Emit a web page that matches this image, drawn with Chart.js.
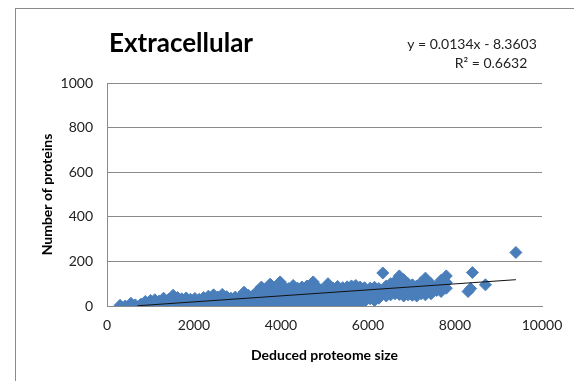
<!DOCTYPE html>
<html>
<head>
<meta charset="utf-8">
<script src="https://cdn.jsdelivr.net/npm/chart.js@4"></script>
<style>
  body { margin: 0; background: #fff; }
  #wrap { position: relative; width: 574px; height: 381px; }
  #frame { position: absolute; left: 15px; top: 8px; right: -2px; bottom: -2px; border-top: 1px solid #8a8a8a; border-left: 1px solid #8a8a8a; }
  canvas { position: absolute; left: 0; top: 0; }
</style>
</head>
<body>
<div id="wrap">
  <div id="frame"></div>
  <canvas id="chart" width="574" height="381"></canvas>
</div>
<script>
// deduced proteome size (x) and number of extracellular proteins (y)
const proteomeSize = [
  300, 420, 550, 550, 650, 780, 880, 880,
  1000, 1000, 1000, 1100, 1100, 1100, 1200, 1200, 1300, 1300, 1300,
  1420, 1420, 1420, 1520, 1520, 1520, 1620, 1620, 1620, 1720, 1720, 1720,
  1820, 1820, 1820, 1920, 1920, 1920, 2020, 2020, 2020, 2120, 2120, 2120,
  2220, 2220, 2220, 2330, 2330, 2330, 2450, 2450, 2450, 2450, 2550, 2550, 2550,
  2650, 2650, 2650, 2650, 2750, 2750, 2750, 2850, 2850, 2850, 2950, 2950, 2950,
  3050, 3050, 3050, 3150, 3150, 3150, 3150, 3250, 3250, 3250, 3350, 3350, 3350, 3350,
  3450, 3450, 3450, 3450, 3550, 3550, 3550, 3550, 3550, 3650, 3650, 3650, 3650,
  3750, 3750, 3750, 3750, 3750, 3870, 3870, 3870, 3870, 3980, 3980, 3980, 3980, 3980,
  4080, 4080, 4080, 4080, 4080, 4180, 4180, 4180, 4180, 4280, 4280, 4280, 4280, 4280,
  4380, 4380, 4380, 4380, 4480, 4480, 4480, 4480, 4480, 4600, 4600, 4600, 4600, 4600,
  4740, 4740, 4740, 4740, 4740, 4840, 4840, 4840, 4840, 4840, 4940, 4940, 4940, 4940,
  5080, 5080, 5080, 5080, 5080, 5200, 5200, 5200, 5200, 5300, 5300, 5300, 5300, 5300,
  5420, 5420, 5420, 5420, 5520, 5520, 5520, 5520, 5520, 5620, 5620, 5620,
  5720, 5720, 5720, 5720, 5720, 5820, 5820, 5820, 5820, 5920, 5920, 5920, 5920,
  6050, 6050, 6050, 6150, 6150, 6150, 6150, 6250, 6250, 6250, 6340,
  6420, 6420, 6420, 6520, 6520, 6520, 6620, 6620, 6620, 6720, 6720, 6720, 6720,
  6820, 6820, 6820, 6820, 6920, 6920, 6920, 7020, 7020, 7020, 7120, 7120, 7120,
  7220, 7220, 7220, 7320, 7320, 7320, 7320, 7450, 7450, 7450, 7580, 7580,
  7680, 7680, 7680, 7800, 7800, 7800,
  8300, 8360, 8400, 8700, 9400
];
const proteinCount = [
  3, 0, 12, 2, 5, 8, 20, 4,
  25, 8, 0, 28, 14, 2, 22, 6, 35, 18, 3,
  30, 12, 1, 48, 26, 8, 38, 20, 4, 32, 14, 0,
  36, 22, 6, 30, 12, 2, 34, 18, 5, 30, 10, 0,
  38, 20, 4, 44, 26, 8, 50, 30, 12, 2, 40, 22, 5,
  52, 34, 15, 3, 42, 24, 6, 35, 18, 2, 40, 22, 8,
  38, 20, 4, 62, 40, 20, 5, 48, 28, 10, 45, 26, 6, 0,
  65, 42, 22, 4, 85, 60, 36, 14, 2, 75, 50, 28, 8,
  98, 70, 44, 20, 3, 72, 48, 26, 6, 108, 80, 54, 30, 10,
  85, 58, 34, 12, 0, 78, 52, 28, 6, 92, 64, 38, 16, 2,
  80, 55, 30, 10, 85, 60, 36, 14, 2, 90, 62, 38, 16, 4,
  108, 80, 54, 30, 8, 84, 58, 32, 12, 0, 72, 46, 22, 4,
  100, 72, 46, 22, 5, 80, 54, 30, 10, 88, 60, 34, 12, 2,
  82, 56, 30, 8, 86, 62, 38, 16, 3, 90, 66, 55,
  92, 68, 44, 22, 5, 85, 60, 36, 15, 82, 58, 34, 20,
  80, 56, 32, 84, 60, 40, 25, 78, 54, 35, 148,
  90, 65, 45, 100, 75, 50, 110, 80, 55, 135, 105, 78, 52,
  118, 90, 62, 45, 100, 72, 50, 95, 70, 48, 90, 68, 45,
  105, 80, 55, 125, 96, 70, 50, 100, 75, 55, 90, 70,
  115, 88, 65, 135, 105, 80,
  65, 78, 150, 95, 240
];
// linear trend line end points
const trendX = [700, 9400];
const trendY = [1, 118];

const yTicks = [0, 200, 400, 600, 800, 1000];
const xTicks = [0, 2000, 4000, 6000, 8000, 10000];

const points = proteomeSize.map((x, i) => ({ x: x, y: proteinCount[i] }));
const trend = trendX.map((x, i) => ({ x: x, y: trendY[i] }));

const FONT = "Lato, 'Open Sans', sans-serif";

const textPlugin = {
  id: "texts",
  afterDraw(chart) {
    const ctx = chart.ctx;
    ctx.save();
    ctx.fillStyle = "#000";
    ctx.textBaseline = "middle";
    ctx.textAlign = "center";
    ctx.font = "bold 26px " + FONT;
    ctx.fillText("Extracellular", 181, 44);
    ctx.font = "14px " + FONT;
    ctx.fillStyle = "#222";
    ctx.fillText("y = 0.0134x - 8.3603", 472, 44);
    ctx.fillText("R\u00b2 = 0.6632", 491, 63);
    ctx.restore();
  },
};

new Chart(document.getElementById("chart"), {
  type: "scatter",
  data: {
    datasets: [
      {
        type: "line",
        label: "Linear trend",
        data: trend,
        borderColor: "#111",
        borderWidth: 1,
        pointRadius: 0,
        fill: false,
        order: 0,
      },
      {
        label: "Extracellular",
        data: points,
        pointStyle: "rectRot",
        pointRadius: 6,
        backgroundColor: "#4a7ebb",
        borderColor: "#4a7ebb",
        borderWidth: 1,
        order: 1,
      },
    ],
  },
  options: {
    responsive: false,
    animation: false,
    layout: { padding: { top: 83, right: 32, bottom: 0, left: 0 } },
    plugins: { legend: { display: false }, tooltip: { enabled: false } },
    scales: {
      x: {
        type: "linear",
        min: 0,
        max: 10000,
        afterBuildTicks: (s) => { s.ticks = xTicks.map((v) => ({ value: v })); },
        afterFit: (s) => { s.height = 75; },
        grid: { display: false, drawTicks: false },
        border: { display: true, color: "#8a8a8a", width: 1 },
        ticks: { color: "#222", font: { family: FONT, size: 14 }, padding: 11, maxRotation: 0, callback: (v) => String(v) },
        title: {
          display: true,
          text: "Deduced proteome size",
          color: "#000",
          font: { family: FONT, size: 14, weight: "bold" },
          padding: { top: 0, bottom: 17 },
        },
      },
      y: {
        min: 0,
        max: 1000,
        afterBuildTicks: (s) => { s.ticks = yTicks.map((v) => ({ value: v })); },
        afterFit: (s) => { s.width = 107; },
        grid: { color: "#8a8a8a", lineWidth: 1, drawTicks: false },
        border: { display: true, color: "#8a8a8a", width: 1 },
        ticks: { color: "#222", font: { family: FONT, size: 14 }, padding: 14, callback: (v) => String(v) },
        title: {
          display: true,
          text: "Number of proteins",
          color: "#000",
          font: { family: FONT, size: 14, weight: "bold" },
          padding: { top: 39, bottom: 0 },
        },
      },
    },
  },
  plugins: [textPlugin],
});
</script>
</body>
</html>
